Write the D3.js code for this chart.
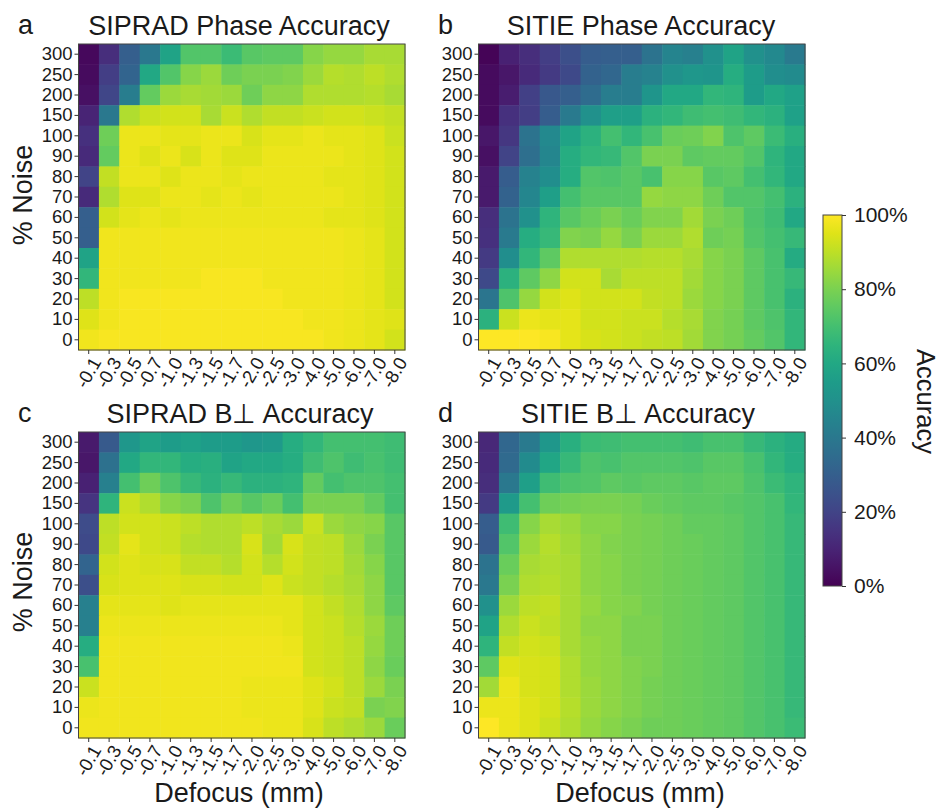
<!DOCTYPE html>
<html>
<head>
<meta charset="utf-8">
<script src="https://cdn.jsdelivr.net/npm/d3@7"></script>
<style>
  html, body { margin: 0; padding: 0; background: #fff; }
  svg text { font-family: "Liberation Sans", Arial, sans-serif; fill: #1a1a1a; }
  .cells { filter: blur(0.5px); }
</style>
</head>
<body>
<svg id="chart" width="940" height="808"></svg>
<script>
const defocus = ['-0.1','-0.3','-0.5','-0.7','-1.0','-1.3','-1.5','-1.7','-2.0','-2.5','-3.0','-4.0','-5.0','-6.0','-7.0','-8.0']
const noise = ['300','250','200','150','100','90','80','70','60','50','40','30','20','10','0']
const cbarTicks = [0, 20, 40, 60, 80, 100]

// rows go top to bottom, same order as noise
const sipradPhase = [
  [2,13,30,40,58,73,73,68,74,75,75,82,84,84,87,87],
  [3,18,32,60,73,82,85,78,80,80,81,85,89,88,90,88],
  [4,21,42,76,85,87,86,85,78,83,83,88,88,88,89,87],
  [10,40,88,92,93,93,87,92,88,91,91,92,93,93,92,91],
  [14,78,97,97,96,96,97,97,94,96,96,97,96,96,95,92],
  [12,76,97,95,97,94,97,95,95,97,97,97,97,96,95,93],
  [20,91,97,97,95,97,97,96,97,97,97,97,96,96,95,93],
  [12,88,95,95,97,97,96,97,96,97,97,97,97,96,95,93],
  [30,93,96,97,96,97,97,97,97,97,97,97,96,96,95,93],
  [30,98,98,98,98,98,98,98,98,98,98,98,98,97,96,93],
  [58,98,98,98,98,98,98,98,98,98,98,98,98,97,96,93],
  [66,98,98,98,98,98,99,99,99,98,98,98,98,97,96,93],
  [90,98,99,99,99,99,99,99,99,99,98,98,98,97,96,93],
  [95,98,99,99,99,99,99,99,99,99,99,98,98,97,96,95],
  [98,99,99,99,99,99,99,99,99,99,99,99,98,97,96,93]
]
const sitiePhase = [
  [1,9,13,18,24,29,30,30,38,45,43,50,58,50,47,41],
  [3,6,12,17,22,31,33,42,44,50,53,52,62,55,49,48],
  [3,8,19,27,30,35,42,42,52,60,60,66,65,55,60,57],
  [3,14,18,29,41,50,56,56,64,66,69,70,69,66,64,57],
  [6,16,38,47,58,64,70,66,71,77,78,81,72,75,68,63],
  [4,20,36,46,62,66,67,73,80,80,75,76,76,73,65,60],
  [7,29,44,49,62,73,72,74,71,82,82,74,75,70,66,60],
  [7,31,46,56,70,74,74,74,84,83,83,78,73,73,70,64],
  [13,38,50,65,74,77,80,77,81,81,86,80,78,72,69,60],
  [14,41,62,67,81,80,84,80,85,85,88,78,79,73,70,67],
  [17,49,66,75,88,88,88,88,89,89,87,82,80,75,71,61],
  [22,64,75,83,93,93,87,90,90,90,86,82,80,75,71,67],
  [39,72,84,93,95,93,93,93,91,90,85,82,80,75,71,64],
  [64,92,97,96,96,93,93,92,92,89,87,81,79,75,72,66],
  [100,100,100,99,96,94,93,92,91,90,86,81,79,76,73,66]
]
const sipradB = [
  [7,28,53,58,55,57,55,55,53,54,62,66,70,70,70,69],
  [6,37,60,66,66,62,63,58,60,60,62,69,72,69,71,69],
  [9,43,70,78,72,67,64,67,64,64,65,76,70,72,72,70],
  [15,65,92,88,82,80,72,78,74,77,70,80,80,80,76,70],
  [23,90,93,93,92,90,88,88,90,87,85,92,85,83,82,74],
  [22,91,96,93,92,89,88,88,94,86,94,91,90,85,80,74],
  [32,93,95,94,94,91,91,89,93,89,93,91,90,86,82,74],
  [24,94,95,95,95,94,94,93,93,95,92,91,89,87,83,74],
  [43,96,96,96,95,96,96,96,96,96,96,93,91,88,83,75],
  [43,97,97,97,97,97,97,97,97,97,96,93,92,89,85,78],
  [62,98,98,98,98,98,98,98,98,98,97,93,92,90,84,78],
  [71,98,98,98,98,98,98,98,98,98,98,93,92,90,83,77],
  [92,98,98,98,98,98,98,98,97,97,97,95,93,90,85,80],
  [97,98,98,98,98,98,98,98,97,97,97,95,92,91,80,81],
  [98,98,98,98,98,98,98,98,98,97,97,94,90,88,85,77]
]
const sitieB = [
  [11,33,41,53,63,68,69,70,70,70,69,71,71,67,64,61],
  [12,34,48,59,67,72,71,73,73,73,72,74,74,71,66,62],
  [13,40,56,69,72,73,75,74,75,75,74,75,75,72,68,65],
  [17,54,70,78,79,80,80,79,77,76,75,75,74,73,71,66],
  [29,69,82,87,85,82,82,80,79,78,76,76,75,73,71,67],
  [28,73,85,89,86,83,81,80,79,78,77,76,75,73,71,67],
  [38,77,87,88,87,83,82,80,79,78,77,76,75,73,71,67],
  [40,80,88,89,87,83,82,80,79,78,77,76,75,73,71,67],
  [50,85,90,91,87,84,82,81,79,78,77,76,75,73,71,67],
  [58,88,92,90,87,83,83,80,80,78,77,76,75,73,71,67],
  [65,91,93,92,87,84,83,80,80,78,77,76,75,73,71,67],
  [75,95,94,93,88,84,83,81,80,78,77,76,75,73,71,67],
  [86,97,94,93,88,85,83,81,79,78,77,76,75,73,71,67],
  [97,97,95,93,89,85,83,81,79,78,77,76,75,73,71,67],
  [100,97,95,92,88,84,82,80,78,78,77,76,75,73,71,68]
]

const svg = d3.select('#chart')
const size = 326.5
const height = 306
const color = d3.scaleSequential(d3.interpolateViridis).domain([0, 100])

function drawPanel(opts) {
  const g = svg.append('g').attr('transform', `translate(${opts.left},${opts.top})`)
  const x = d3.scaleBand().domain(defocus).range([0, size])
  const y = d3.scaleBand().domain(noise).range([0, height])

  const cells = g.append('g').attr('class', 'cells')
  opts.values.forEach((row, i) => {
    cells.selectAll(null)
      .data(row)
      .join('rect')
      .attr('x', (d, j) => x(defocus[j]))
      .attr('y', y(noise[i]))
      .attr('width', x.bandwidth() + 0.5)
      .attr('height', y.bandwidth() + 0.5)
      .attr('fill', d => color(d))
  })

  g.append('rect')
    .attr('width', size).attr('height', height)
    .attr('fill', 'none').attr('stroke', '#444').attr('stroke-width', 1)

  const yAxis = g.append('g').call(d3.axisLeft(y).tickSize(4).tickSizeOuter(0))
  yAxis.select('.domain').remove()
  yAxis.selectAll('text').attr('font-size', 18.5).attr('dx', 1)

  const xAxis = g.append('g').attr('transform', `translate(0,${height})`)
    .call(d3.axisBottom(x).tickSize(4).tickSizeOuter(0))
  xAxis.select('.domain').remove()
  xAxis.selectAll('text')
    .attr('font-size', 18.5)
    .attr('text-anchor', 'end')
    .attr('y', 0)
    .attr('dy', '0.32em')
    .attr('transform', 'translate(8,9) rotate(-60)')
  g.selectAll('.tick line').attr('stroke', '#333')

  svg.append('text').attr('x', opts.titleX).attr('y', opts.top - 9)
    .attr('text-anchor', 'middle').attr('font-size', 27).text(opts.title)
  svg.append('text').attr('x', opts.letterX).attr('y', opts.top - 10)
    .attr('font-size', 27).text(opts.letter)

  if (opts.ylabel) {
    svg.append('text')
      .attr('transform', `translate(32,${opts.ylabelY}) rotate(-90)`)
      .attr('text-anchor', 'middle').attr('font-size', 27).text(opts.ylabel)
  }
  if (opts.xlabel) {
    svg.append('text').attr('x', opts.xlabelX).attr('y', 802)
      .attr('text-anchor', 'middle').attr('font-size', 27).text(opts.xlabel)
  }
}

drawPanel({ left: 78.5, top: 44, values: sipradPhase, title: 'SIPRAD Phase Accuracy', titleX: 239, letter: 'a', letterX: 18, ylabel: '% Noise', ylabelY: 195 })
drawPanel({ left: 478.5, top: 44, values: sitiePhase, title: 'SITIE Phase Accuracy', titleX: 641, letter: 'b', letterX: 438 })
drawPanel({ left: 78.5, top: 432, values: sipradB, title: 'SIPRAD B\u22A5 Accuracy', titleX: 240, letter: 'c', letterX: 18, ylabel: '% Noise', ylabelY: 582, xlabel: 'Defocus (mm)', xlabelX: 239 })
drawPanel({ left: 478.5, top: 432, values: sitieB, title: 'SITIE B\u22A5 Accuracy', titleX: 638, letter: 'd', letterX: 438, xlabel: 'Defocus (mm)', xlabelX: 640 })

// colorbar
const cbLeft = 823, cbTop = 215, cbW = 19, cbH = 371
const grad = svg.append('defs').append('linearGradient')
  .attr('id', 'viridis').attr('x1', 0).attr('x2', 0).attr('y1', 1).attr('y2', 0)
d3.range(0, 1.001, 0.05).forEach(t => {
  grad.append('stop').attr('offset', t).attr('stop-color', d3.interpolateViridis(t))
})
const cb = svg.append('g').attr('transform', `translate(${cbLeft},${cbTop})`)
cb.append('rect').attr('width', cbW).attr('height', cbH)
  .attr('fill', 'url(#viridis)').attr('stroke', '#444').attr('stroke-width', 1)
const cbScale = d3.scaleLinear().domain([0, 100]).range([cbH, 0])
const cbAxis = cb.append('g').attr('transform', `translate(${cbW},0)`)
  .call(d3.axisRight(cbScale).tickValues(cbarTicks).tickFormat(d => d + '%').tickSize(4).tickSizeOuter(0))
cbAxis.select('.domain').remove()
cbAxis.selectAll('text').attr('font-size', 21).attr('dx', 5)
cbAxis.selectAll('.tick line').attr('stroke', '#333')
cb.append('text')
  .attr('transform', `translate(94,${cbH / 2 + 1}) rotate(90)`)
  .attr('text-anchor', 'middle').attr('font-size', 25.5).text('Accuracy')
</script>
</body>
</html>
